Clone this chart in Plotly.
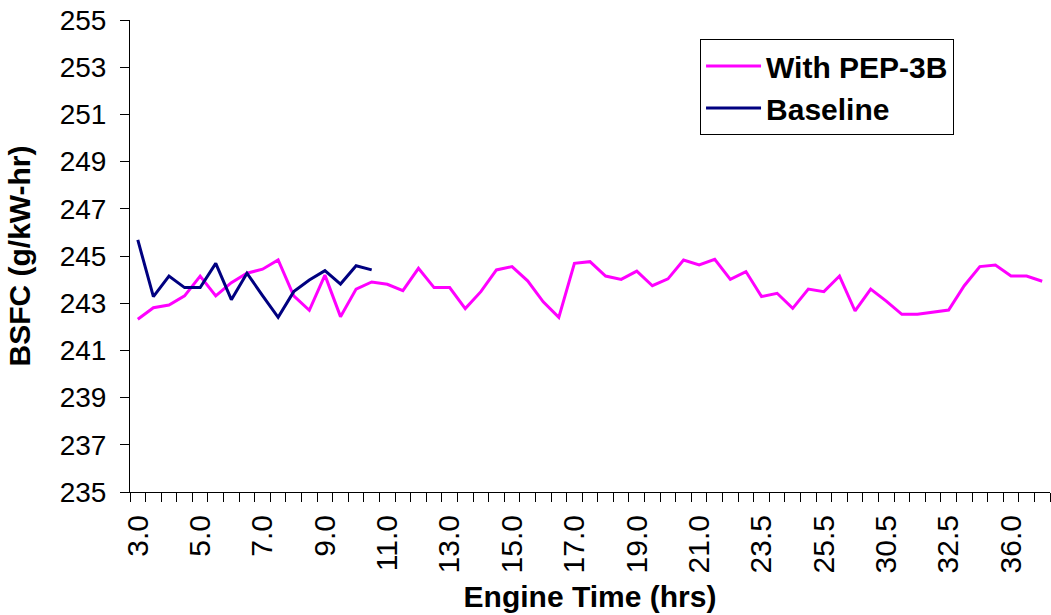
import plotly.graph_objects as go

categories = ["3.0", "3.5", "4.0", "4.5", "5.0", "5.5", "6.0", "6.5", "7.0", "7.5",
              "8.0", "8.5", "9.0", "9.5", "10.0", "10.5", "11.0", "11.5", "12.0", "12.5",
              "13.0", "13.5", "14.0", "14.5", "15.0", "15.5", "16.0", "16.5", "17.0", "17.5",
              "18.0", "18.5", "19.0", "19.5", "20.0", "20.5", "21.0", "21.5", "22.0", "23.0",
              "23.5", "24.0", "24.5", "25.0", "25.5", "26.0", "28.0", "30.0", "30.5", "31.0",
              "31.5", "32.0", "32.5", "33.5", "34.5", "35.5", "36.0", "36.5", "37.0"]

pep3b = [242.32, 242.81, 242.92, 243.31, 244.15, 243.31, 243.87, 244.27, 244.44, 244.83,
         243.31, 242.70, 244.19, 242.43, 243.60, 243.90, 243.80, 243.53, 244.48, 243.66,
         243.66, 242.77, 243.49, 244.41, 244.55, 243.95, 243.06, 242.40, 244.69, 244.76,
         244.15, 244.01, 244.36, 243.74, 244.03, 244.83, 244.62, 244.86, 244.01, 244.34,
         243.28, 243.42, 242.78, 243.60, 243.49, 244.15, 242.67, 243.60, 243.09, 242.53,
         242.53, 242.61, 242.71, 243.74, 244.55, 244.62, 244.15, 244.15, 243.93]

baseline_cats = categories[:16]
baseline = [245.68, 243.28, 244.15, 243.66, 243.66, 244.69, 243.15, 244.27, 243.32, 242.40,
            243.49, 243.98, 244.38, 243.81, 244.59, 244.41]

tick_labels = [c if i % 4 == 0 else "" for i, c in enumerate(categories)]

FONT = "Arial, Liberation Sans, sans-serif"

fig = go.Figure()
fig.add_trace(go.Scatter(x=categories, y=pep3b, mode="lines", name="With PEP-3B",
                         line=dict(color="#FF00FF", width=3), legendgroup="a"))
fig.add_trace(go.Scatter(x=baseline_cats, y=baseline, mode="lines", name="Baseline",
                         line=dict(color="#000080", width=3), legendgroup="b"))

fig.update_layout(
    width=1051, height=615,
    margin=dict(l=130, r=1, t=20, b=123),
    paper_bgcolor="white", plot_bgcolor="white",
    font=dict(family=FONT, size=28, color="black"),
    showlegend=True,
    legend=dict(x=0.6196, y=0.9597, xanchor="left", yanchor="top",
                bgcolor="white", bordercolor="black", borderwidth=1,
                font=dict(family=FONT, size=30, color="black", weight="bold"),
                tracegroupgap=0, itemwidth=55),
    xaxis=dict(type="category", categoryorder="array", categoryarray=categories,
               range=[-0.5, len(categories) - 0.5], automargin=False,
               tickmode="array", tickvals=categories, ticktext=tick_labels,
               tickson="boundaries", ticks="outside", ticklen=9, tickcolor="black",
               tickangle=-90, tickfont=dict(size=30), ticklabelstandoff=10,
               showline=True, linecolor="black", linewidth=1, showgrid=False,
               title=dict(text="<b>Engine Time (hrs)</b>", font=dict(size=30), standoff=13)),
    yaxis=dict(range=[235, 255], dtick=2, tick0=235, ticks="outside", ticklen=9,
               tickcolor="black", showline=True, linecolor="black", linewidth=1,
               showgrid=False, zeroline=False, tickfont=dict(size=28), automargin=False,
               ticklabelstandoff=8,
               title=dict(text="<b>BSFC (g/kW-hr)</b>", font=dict(size=30), standoff=20)),
)

fig.write_html("out.html", config={"displayModeBar": False},
               post_script="document.body.style.margin='0';document.body.style.overflow='hidden';")
